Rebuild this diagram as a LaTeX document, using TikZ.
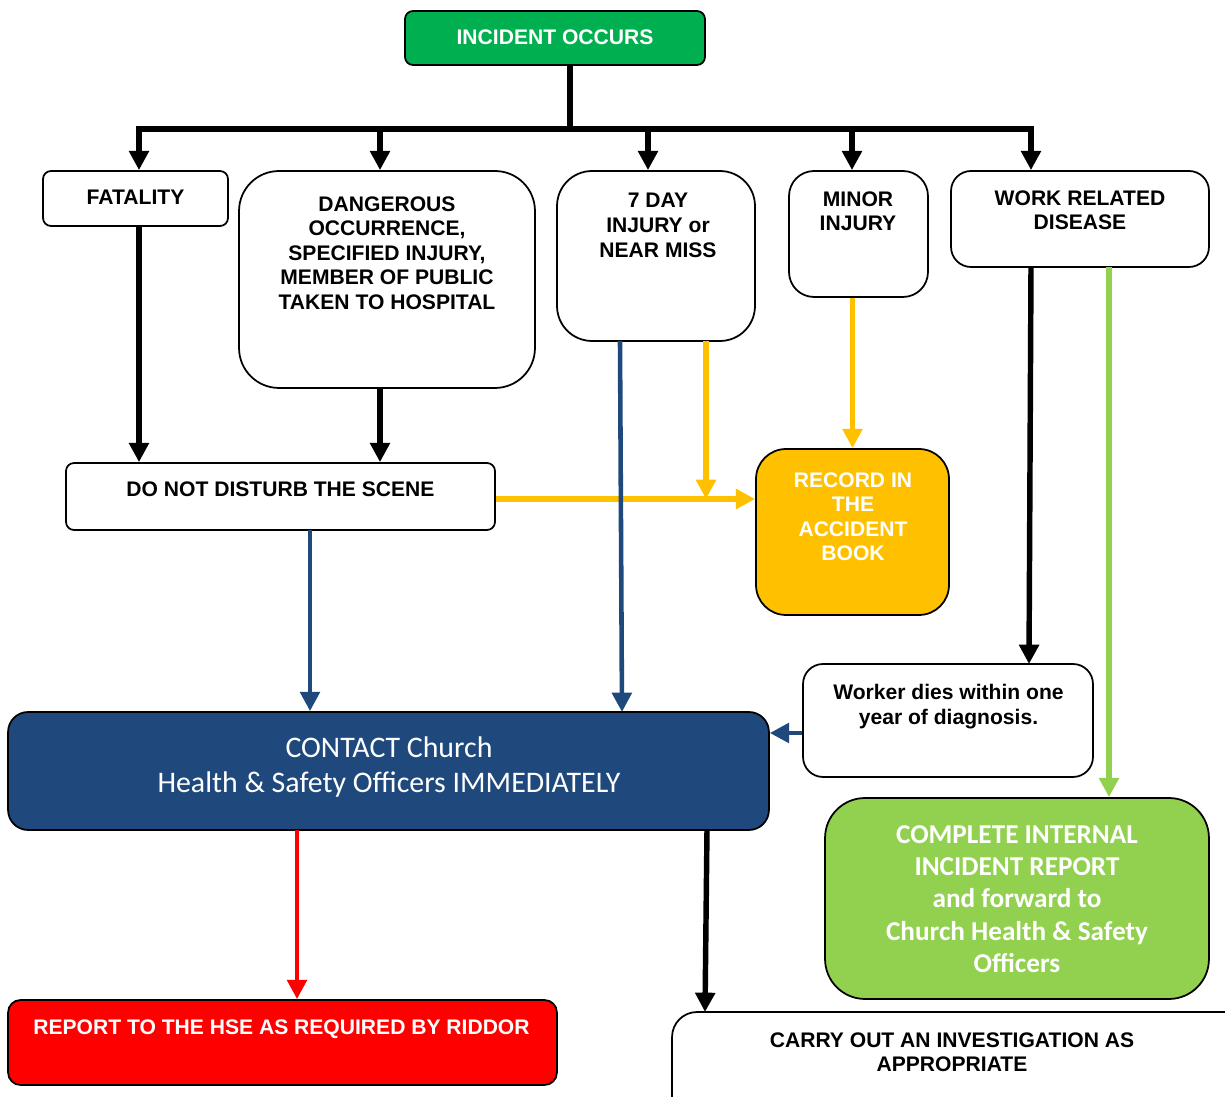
\documentclass[tikz,border=0pt]{standalone}
\usepackage{fontspec}
\setmainfont{Liberation Sans}
\newfontfamily\calfont{Carlito}
\usetikzlibrary{arrows.meta}

\definecolor{incgreen}{HTML}{00B050}
\definecolor{hsblue}{HTML}{1F497D}
\definecolor{bookgold}{HTML}{FFC000}
\definecolor{reportgreen}{HTML}{92D050}
\definecolor{riddorred}{HTML}{FF0000}

\tikzset{
  fhead/.tip={Triangle[length=11pt,width=11pt]},
  box/.style={draw=black, line width=1pt, fill=white, inner sep=0pt},
  txt/.style={anchor=north, inner sep=0pt, align=center, font=\fontsize{12}{14}\selectfont\bfseries},
  flow/.style={line width=3.1pt, -fhead},
  thinflow/.style={line width=2.6pt, -fhead},
}

\begin{document}
\begin{tikzpicture}[x=0.02cm, y=-0.02cm]
    \useasboundingbox (0,0) rectangle (1225,1097);
    % start
    \node[box, fill=incgreen, rounded corners=0.16cm, minimum width=6cm, minimum height=1.08cm, text=white, font=\fontsize{12}{14}\selectfont\bfseries] (inc) at (555,38) {\raisebox{1pt}{INCIDENT OCCURS}};
    % kinds of incident
    \node[box, rounded corners=0.16cm, minimum width=3.7cm, minimum height=1.1cm, font=\fontsize{12}{14}\selectfont\bfseries] (fat) at (135.5,198.5) {\raisebox{1pt}{FATALITY}};
    \node[box, rounded corners=0.8cm, minimum width=5.92cm, minimum height=4.34cm] (dang) at (387,279.5) {};
    \node[txt] (dang-t) at (387,196) {DANGEROUS\\OCCURRENCE,\\SPECIFIED INJURY,\\MEMBER OF PUBLIC\\TAKEN TO HOSPITAL};
    \node[box, rounded corners=0.7cm, minimum width=3.96cm, minimum height=3.4cm] (seven) at (656,256) {};
    \node[txt] (seven-t) at (658,193) {7 DAY\\INJURY or\\NEAR MISS};
    \node[box, rounded corners=0.5cm, minimum width=2.78cm, minimum height=2.52cm] (minor) at (858.5,234) {};
    \node[txt] (minor-t) at (858,191) {MINOR\\INJURY};
    \node[box, rounded corners=0.4cm, minimum width=5.16cm, minimum height=1.92cm] (work) at (1080,219) {};
    \node[txt] (work-t) at (1080,190) {WORK RELATED\\DISEASE};
    % middle row
    \node[box, rounded corners=0.16cm, minimum width=8.58cm, minimum height=1.34cm] (scene) at (280.5,496.5) {};
    \node[txt] (scene-t) at (280.5,481) {DO NOT DISTURB THE SCENE};
    \node[box, fill=bookgold, rounded corners=0.6cm, minimum width=3.86cm, minimum height=3.32cm] (record) at (852.5,532) {};
    \node[txt, text=white] (record-t) at (853,472) {RECORD IN\\THE\\ACCIDENT\\BOOK};
    \node[box, rounded corners=0.4cm, minimum width=5.8cm, minimum height=2.26cm] (dies) at (948,720.5) {};
    \node[txt] (dies-t) at (948.5,684) {Worker dies within one\\year of diagnosis.};
    \node[box, fill=hsblue, rounded corners=0.4cm, minimum width=15.22cm, minimum height=2.36cm] (contact) at (388.5,771) {};
    \node[txt, text=white, font=\calfont\fontsize{17}{20.4}\selectfont] (contact-t) at (389,736) {CONTACT Church\\Health \& Safety Officers IMMEDIATELY};
    \node[box, fill=reportgreen, rounded corners=0.8cm, minimum width=7.68cm, minimum height=4.02cm] (internal) at (1017,898.5) {};
    \node[txt, text=white, font=\calfont\bfseries\fontsize{15.5}{18.4}\selectfont] (internal-t) at (1017,825) {COMPLETE INTERNAL\\INCIDENT REPORT\\and forward to\\Church Health \& Safety\\Officers};
    % outcomes
    \node[box, fill=riddorred, rounded corners=0.25cm, minimum width=10.98cm, minimum height=1.7cm] (hse) at (282.5,1042.5) {};
    \node[txt, text=white] (hse-t) at (281.5,1019) {REPORT TO THE HSE AS REQUIRED BY RIDDOR};
    \node[box, rounded corners=0.5cm, minimum width=11.76cm, minimum height=2.56cm] (invest) at (966,1076) {};
    \node[txt] (invest-t) at (952,1032) {CARRY OUT AN INVESTIGATION AS\\APPROPRIATE};
    % bus from the start box
    \coordinate (b1) at (139,129);
    \coordinate (b2) at (380,129);
    \coordinate (b3) at (648,129);
    \coordinate (b4) at (852,129);
    \coordinate (b5) at (1031,129);
    \draw[line width=3.1pt] ([xshift=0.3cm]inc.south) -- ([xshift=0.3cm]inc.south |- b1);
    \draw[flow, fhead-fhead] (fat.north -| b1) -- (b1) -- (b5) -- (work.north -| b5);
    \draw[flow] (b2) -- (dang.north -| b2);
    \draw[flow] (b3) -- (seven.north -| b3);
    \draw[flow] (b4) -- (minor.north -| b4);
    % into the scene box
    \draw[flow] (fat.south -| b1) -- (scene.north -| b1);
    \draw[flow] (dang.south -| b2) -- (scene.north -| b2);
    % accident book
    \coordinate (s7gold) at (706,341);
    \draw[flow, draw=bookgold] ([yshift=-0.05cm]scene.east) -- ([yshift=-0.05cm]scene.east -| record.west);
    \draw[flow, draw=bookgold] (s7gold) -- ([yshift=-0.05cm]s7gold |- scene.east);
    \draw[flow, draw=bookgold] (record.north |- minor.south) -- (record.north);
    % to the officers
    \coordinate (s7blue) at (620,341);
    \coordinate (scblue) at (310,530);
    \draw[thinflow, draw=hsblue] (s7blue) -- (622,712);
    \draw[thinflow, draw=hsblue] (scblue) -- (scblue |- contact.north);
    \draw[thinflow, draw=hsblue] ([yshift=-0.25cm]dies.west) -- ([yshift=-0.25cm]dies.west -| contact.east);
    % disease
    \coordinate (wgreen) at (1109,267);
    \draw[flow] (work.south -| b5) -- (1029,664);
    \draw[flow, draw=reportgreen] (wgreen) -- (wgreen |- internal.north);
    % after contact
    \coordinate (ctred) at (297,830);
    \coordinate (ctblk) at (707,830);
    \draw[thinflow, draw=riddorred] (ctred) -- (ctred |- hse.north);
    \draw[flow] (ctblk) -- (705,1012);
\end{tikzpicture}
\end{document}
